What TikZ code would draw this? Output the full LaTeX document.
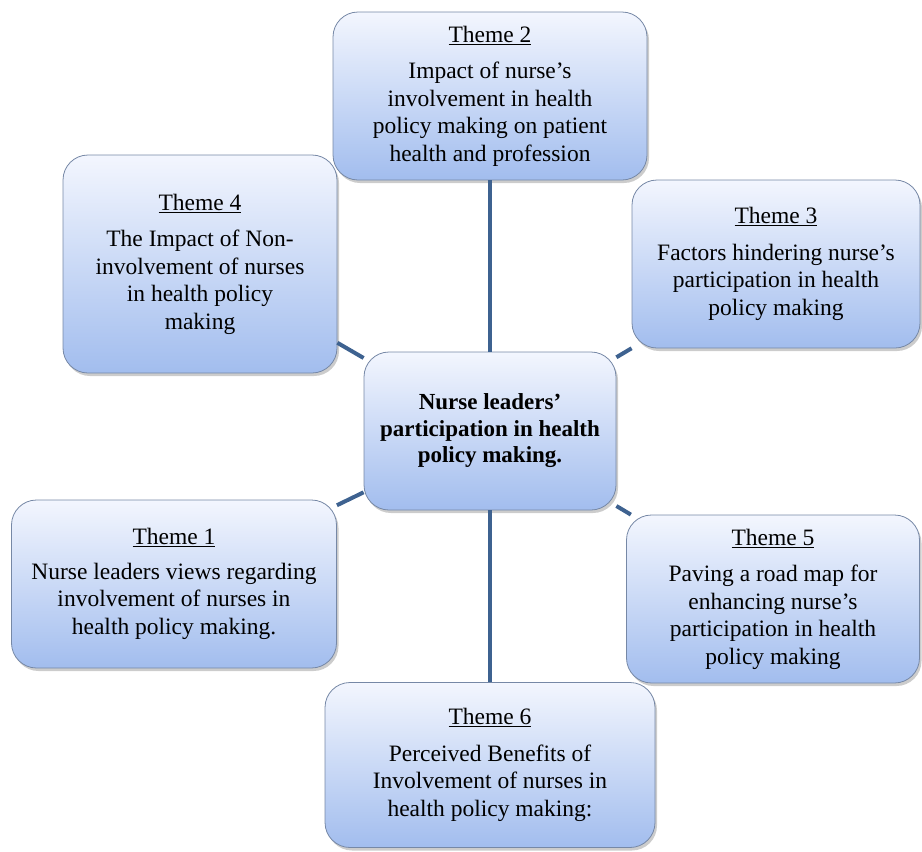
\documentclass[tikz,border=0pt]{standalone}
\usepackage{fontspec}
\setmainfont{Liberation Serif}
\usetikzlibrary{shadows}

\definecolor{linkblue}{RGB}{62,98,144}
\definecolor{boxtop}{RGB}{243,246,254}
\definecolor{boxbottom}{RGB}{162,189,238}
\definecolor{boxedge}{RGB}{118,136,166}

\begin{document}
\begin{tikzpicture}[
    x=1pt, y=-1pt,
    theme/.style={rectangle, draw=boxedge, line width=0.8pt, rounded corners=25pt, top color=boxtop, bottom color=boxbottom, align=center, inner sep=4pt, font=\fontsize{23.5}{27.5}\selectfont, drop shadow={opacity=0.4, shadow xshift=2pt, shadow yshift=-3pt}},
    core/.style={theme, font=\bfseries\fontsize{23}{26.5}\selectfont},
    link/.style={draw=linkblue, line width=4pt}
]
\useasboundingbox (0,0) rectangle (922,852);

\node[core, minimum width=252pt, minimum height=158pt] (centre) at (490,431) {Nurse leaders'\\participation in health\\policy making.};

\node[theme, minimum width=314pt, minimum height=168pt] (t2) at (490,96) {\underline{Theme 2}\\[9pt]Impact of nurse's\\involvement in health\\policy making on patient\\health and profession};
\node[theme, minimum width=274pt, minimum height=218pt] (t4) at (200,264) {\underline{Theme 4}\\[9pt]The Impact of Non-\\involvement of nurses\\in health policy\\making};
\node[theme, minimum width=288pt, minimum height=168pt] (t3) at (776,264) {\underline{Theme 3}\\[9pt]Factors hindering nurse's\\participation in health\\policy making};
\node[theme, minimum width=325pt, minimum height=168pt] (t1) at (174,584) {\underline{Theme 1}\\[7pt]Nurse leaders views regarding\\involvement of nurses in\\health policy making.};
\node[theme, minimum width=293pt, minimum height=168pt] (t5) at (773,599) {\underline{Theme 5}\\[9pt]Paving a road map for\\enhancing nurse's\\participation in health\\policy making};
\node[theme, minimum width=330pt, minimum height=165pt] (t6) at (490,765) {\underline{Theme 6}\\[9pt]Perceived Benefits of\\Involvement of nurses in\\health policy making:};

\draw[link] (t2) -- (centre);
\draw[link] (centre) -- (t6);
\draw[link] (centre) -- (t4);
\draw[link] (centre) -- (t3);
\draw[link] (centre) -- (t1);
\draw[link] (centre) -- (t5);

\end{tikzpicture}
\end{document}
